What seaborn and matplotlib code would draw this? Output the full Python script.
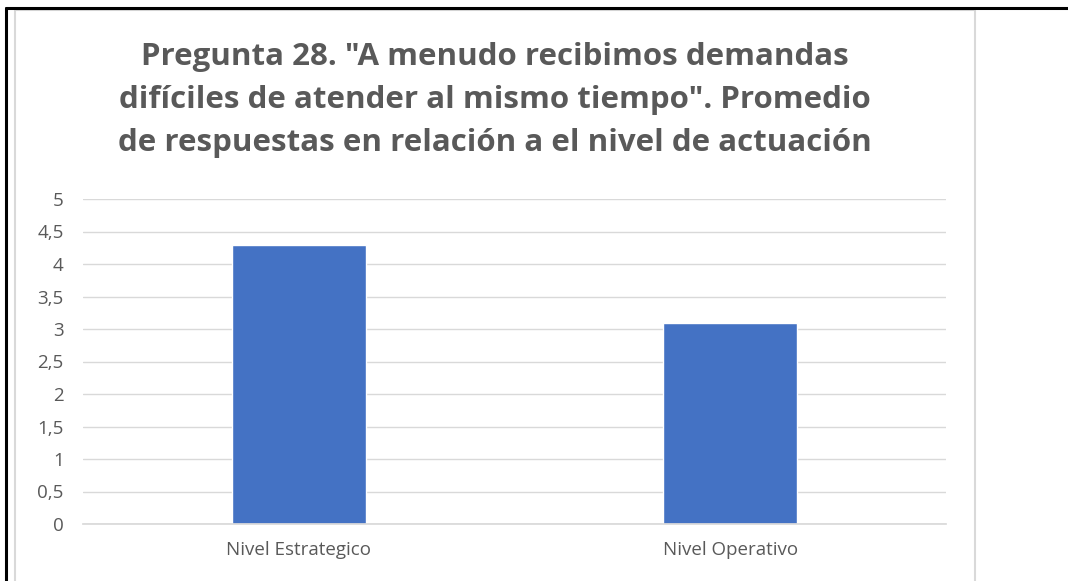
import matplotlib
matplotlib.use("Agg")
import matplotlib.pyplot as plt
from matplotlib.lines import Line2D
from matplotlib.patches import Rectangle
import seaborn as sns
import pandas as pd

categories = ["Nivel Estrategico", "Nivel Operativo"]
values = [4.3, 3.1]
y_ticks = [0, 0.5, 1, 1.5, 2, 2.5, 3, 3.5, 4, 4.5, 5]
y_tick_labels = ["0", "0,5", "1", "1,5", "2", "2,5", "3", "3,5", "4", "4,5", "5"]
title = ('Pregunta 28. "A menudo recibimos demandas\n'
         'difíciles de atender al mismo tiempo". Promedio\n'
         'de respuestas en relación a el nivel de actuación')

sns.set_theme(style="white")
plt.rcParams["font.family"] = ["Open Sans", "DejaVu Sans"]

W, H = 1068, 581
fig = plt.figure(figsize=(W / 100, H / 100), dpi=100)
fig.patch.set_facecolor("white")

# outer page frame lines
fig.add_artist(Line2D([6 / W, 1.0], [1 - 8 / H, 1 - 8 / H], color="black", lw=2.2))
fig.add_artist(Line2D([6 / W, 6 / W], [0, 1 - 8 / H], color="black", lw=2.2))
# chart area border
fig.add_artist(Rectangle((15 / W, -0.05), (975 - 15) / W, 1 - 10 / H + 0.05,
                         fill=False, edgecolor="#d9d9d9", lw=1.5))

ax = fig.add_axes([83 / W, 1 - 524 / H, (946 - 83) / W, (524 - 199) / H])
df = pd.DataFrame({"cat": categories, "val": values})
sns.barplot(data=df, x="cat", y="val", color="#4472c4", saturation=1,
            width=0.31, ax=ax)

ax.set_xlim(-0.5, 1.5)
ax.set_ylim(0, 5)
ax.set_yticks(y_ticks)
ax.set_yticklabels(y_tick_labels)
ax.set_xlabel("")
ax.set_ylabel("")
ax.yaxis.grid(True, color="#d9d9d9", lw=1)
ax.set_axisbelow(True)
for s in ["top", "right", "left"]:
    ax.spines[s].set_visible(False)
ax.spines["bottom"].set_color("#d9d9d9")
ax.tick_params(axis="both", length=0, colors="#595959", labelsize=13.5)
ax.tick_params(axis="y", pad=14)
ax.tick_params(axis="x", pad=12)

fig.text(495 / W, 1 - 100 / H, title, ha="center", va="center",
         fontsize=22.5, fontweight="bold", color="#595959", linespacing=1.56)

fig.savefig("out.png", dpi=100)
